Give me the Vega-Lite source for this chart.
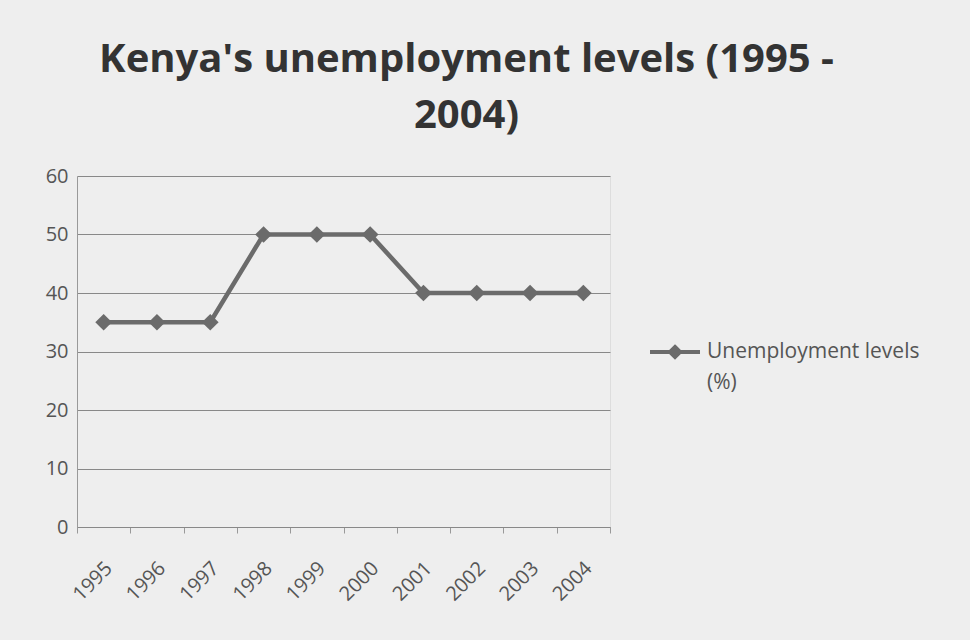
{
  "$schema": "https://vega.github.io/schema/vega-lite/v6.json",
  "autosize": "none",
  "width": 533,
  "height": 351,
  "padding": {"left": 77, "top": 176, "right": 360, "bottom": 113},
  "background": "#eeeeee",
  "title": {
    "text": ["Kenya's unemployment levels (1995 -", "2004)"],
    "anchor": "middle",
    "dx": 123,
    "offset": 30,
    "font": "Open Sans",
    "fontSize": 40,
    "fontWeight": "bold",
    "color": "#333333",
    "lineHeight": 56
  },
  "data": {
    "values": [
      {"year": "1995", "value": 35, "series": "Unemployment levels (%)"},
      {"year": "1996", "value": 35, "series": "Unemployment levels (%)"},
      {"year": "1997", "value": 35, "series": "Unemployment levels (%)"},
      {"year": "1998", "value": 50, "series": "Unemployment levels (%)"},
      {"year": "1999", "value": 50, "series": "Unemployment levels (%)"},
      {"year": "2000", "value": 50, "series": "Unemployment levels (%)"},
      {"year": "2001", "value": 40, "series": "Unemployment levels (%)"},
      {"year": "2002", "value": 40, "series": "Unemployment levels (%)"},
      {"year": "2003", "value": 40, "series": "Unemployment levels (%)"},
      {"year": "2004", "value": 40, "series": "Unemployment levels (%)"}
    ]
  },
  "mark": {
    "type": "line",
    "strokeWidth": 4.5,
    "point": {"shape": "diamond", "size": 280, "filled": true}
  },
  "encoding": {
    "x": {
      "field": "year",
      "type": "ordinal",
      "scale": {"type": "band", "paddingInner": 0, "paddingOuter": 0},
      "axis": {
        "title": null,
        "labelAngle": -45,
        "labelAlign": "right",
        "labelBaseline": "middle",
        "labelFont": "Open Sans",
        "labelFontSize": 20,
        "labelColor": "#555555",
        "bandPosition": 0,
        "tickBand": "extent",
        "domainColor": "#888888",
        "tickColor": "#999999",
        "tickSize": 6,
        "labelPadding": 32,
        "labelOffset": 5,
        "grid": false
      }
    },
    "y": {
      "field": "value",
      "type": "quantitative",
      "scale": {"domain": [0, 60]},
      "axis": {
        "title": null,
        "values": [0, 10, 20, 30, 40, 50, 60],
        "labelFont": "Open Sans",
        "labelFontSize": 20,
        "labelColor": "#555555",
        "gridColor": "#888888",
        "gridWidth": 1,
        "domainColor": "#999999",
        "ticks": false,
        "labelPadding": 9
      }
    },
    "color": {
      "field": "series",
      "type": "nominal",
      "scale": {"range": ["#6b6b6b"]},
      "legend": {
        "title": null,
        "orient": "none",
        "legendX": 571,
        "legendY": 155,
        "symbolType": "M-1,-0.24L1,-0.24M0,-0.44L0.2,-0.24L0,-0.04L-0.2,-0.24Z",
        "symbolSize": 2500,
        "symbolStrokeWidth": 4,
        "symbolFillColor": "#6b6b6b",
        "symbolStrokeColor": "#6b6b6b",
        "labelFont": "Open Sans",
        "labelFontSize": 21,
        "labelColor": "#555555",
        "labelLimit": 400,
        "labelOffset": 5,
        "labelBaseline": "alphabetic",
        "labelExpr": "['Unemployment levels', '(%)']",
        "encode": {"labels": {"update": {"lineHeight": {"value": 31}}}}
      }
    }
  }
}
